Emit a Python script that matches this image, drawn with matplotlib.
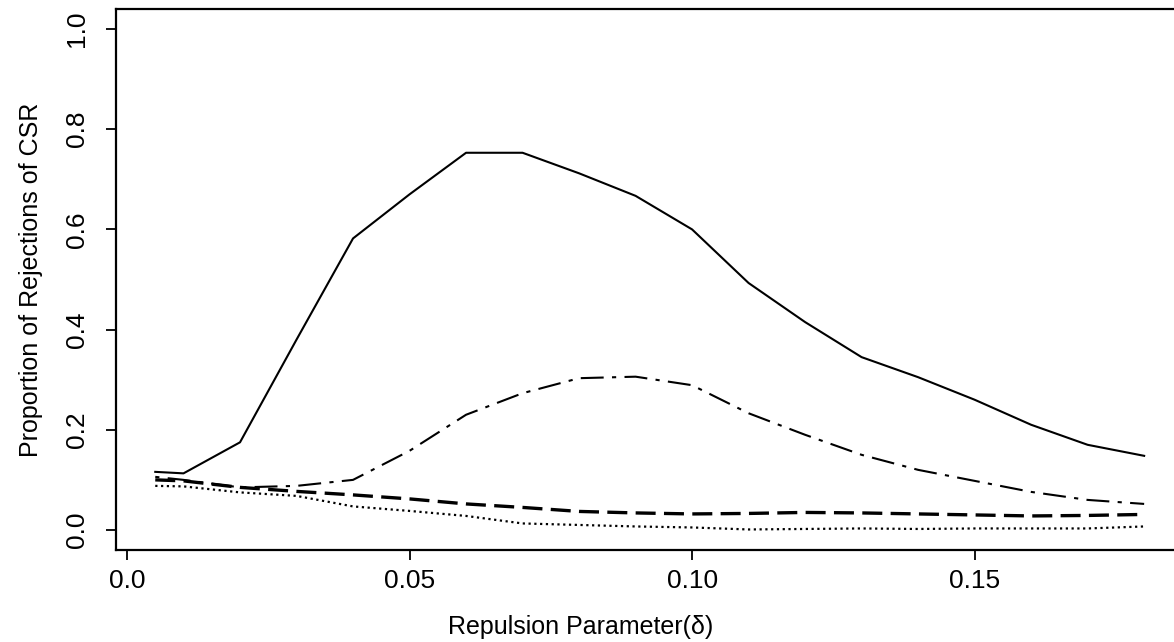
import matplotlib
matplotlib.use("Agg")
import matplotlib.pyplot as plt

plt.rcParams['font.family'] = ['Liberation Sans', 'DejaVu Sans']

delta = [0.005, 0.01, 0.02, 0.03, 0.04, 0.05, 0.06, 0.07, 0.08, 0.09,
         0.10, 0.11, 0.12, 0.13, 0.14, 0.15, 0.16, 0.17, 0.18]

solid = [0.116, 0.113, 0.175, 0.38, 0.582, 0.67, 0.753, 0.753, 0.712, 0.667,
         0.60, 0.493, 0.415, 0.345, 0.305, 0.26, 0.21, 0.17, 0.148]
dotdash = [0.106, 0.10, 0.085, 0.088, 0.10, 0.158, 0.23, 0.273, 0.303, 0.306,
           0.289, 0.233, 0.19, 0.15, 0.12, 0.098, 0.076, 0.06, 0.052]
dashed = [0.10, 0.098, 0.085, 0.077, 0.07, 0.062, 0.052, 0.045, 0.037, 0.034,
          0.032, 0.033, 0.035, 0.034, 0.032, 0.03, 0.028, 0.029, 0.031]
dotted = [0.088, 0.087, 0.075, 0.068, 0.047, 0.038, 0.028, 0.013, 0.01, 0.007,
          0.005, 0.001, 0.002, 0.003, 0.002, 0.003, 0.003, 0.003, 0.007]

xticks = [0.0, 0.05, 0.10, 0.15]
xtick_labels = ["0.0", "0.05", "0.10", "0.15"]
yticks = [0.0, 0.2, 0.4, 0.6, 0.8, 1.0]
ytick_labels = ["0.0", "0.2", "0.4", "0.6", "0.8", "1.0"]

W, H = 1174, 642
fig = plt.figure(figsize=(W / 100, H / 100), dpi=100)
ax = fig.add_axes([115.7 / W, 92 / H, 1068 / W, 541 / H])

ax.plot(delta, solid, color='black', lw=1.5, ls='-')
ax.plot(delta, dotdash, color='black', lw=1.5, ls=(0, (2, 4, 11, 4)))
ax.plot(delta, dashed, color='black', lw=2.4, ls=(0, (6, 2.5)))
ax.plot(delta, dotted, color='black', lw=1.6, ls=(0, (1, 1.6)))

ax.set_xlim(-0.002, 0.187)
ax.set_ylim(-0.04, 1.04)

for s in ax.spines.values():
    s.set_linewidth(1.6)

ax.set_xticks(xticks)
ax.set_xticklabels(xtick_labels)
ax.set_yticks(yticks)
ax.set_yticklabels(ytick_labels, rotation=90, va='center')
ax.tick_params(direction='out', length=7, width=1.3, labelsize=19)
ax.tick_params(axis='x', pad=7)
ax.tick_params(axis='y', pad=12)

ax.set_xlabel("Repulsion Parameter(δ)", fontsize=18)
ax.xaxis.set_label_coords(0.435, -0.12)
ax.set_ylabel("Proportion of Rejections of CSR", fontsize=18)
ax.yaxis.set_label_coords(-0.068, 0.5)

fig.savefig("out.png", dpi=100)
